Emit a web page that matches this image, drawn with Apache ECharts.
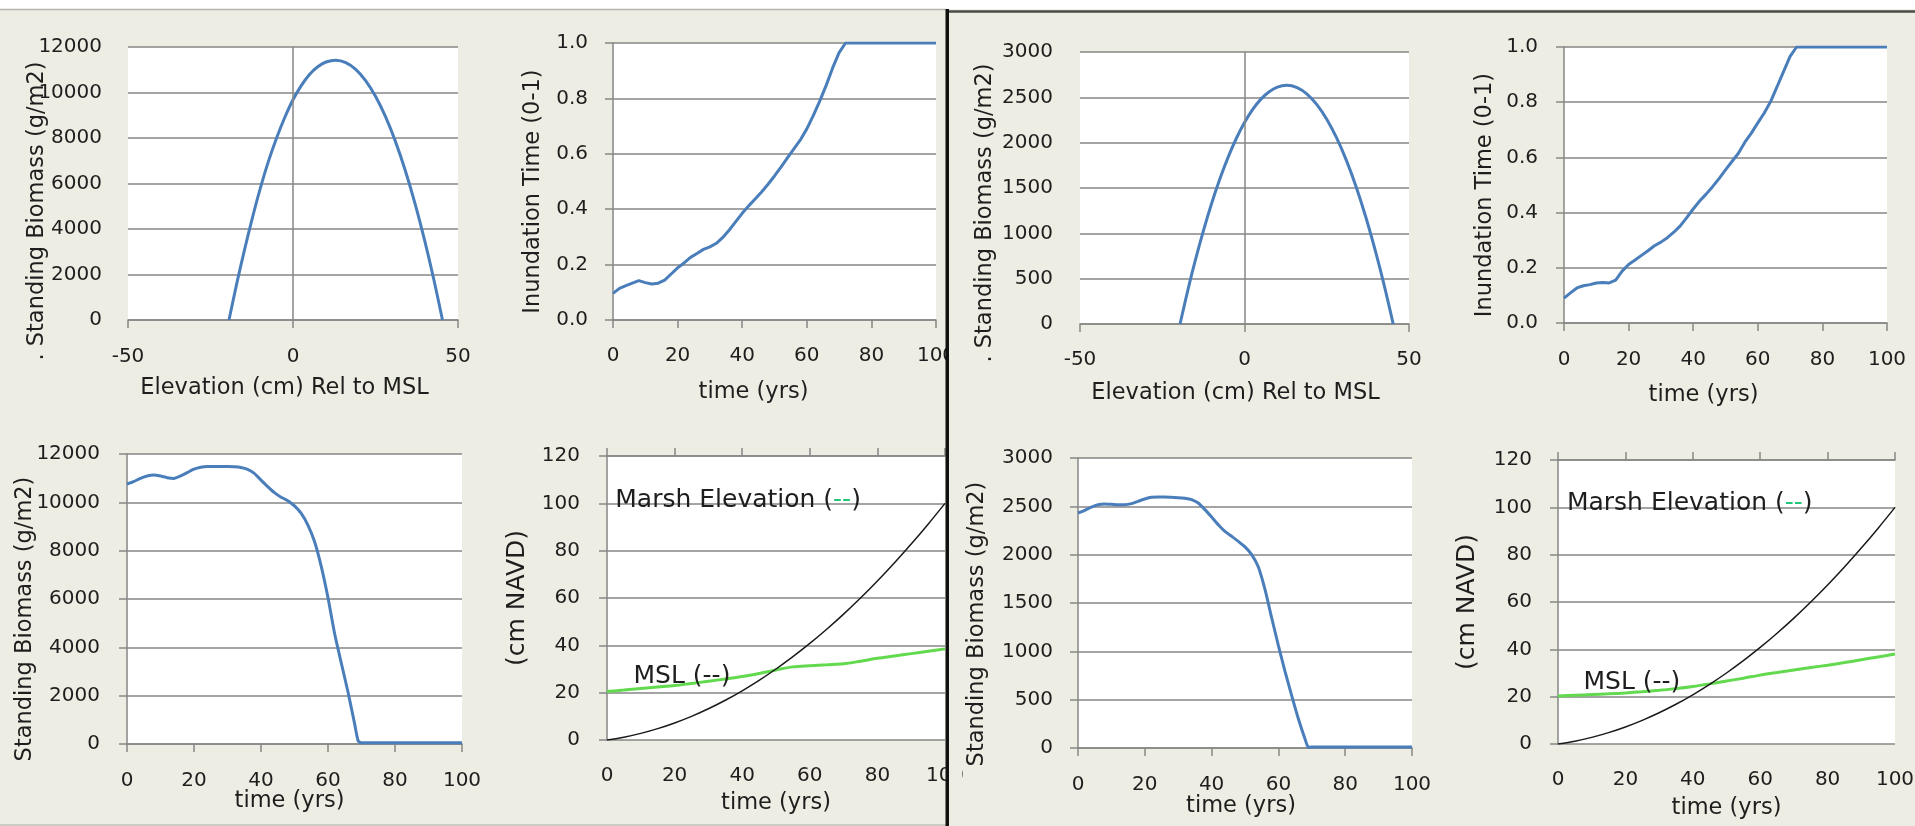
<!DOCTYPE html>
<html>
<head>
<meta charset="utf-8">
<title>Marsh biomass and elevation</title>
<script src="https://cdn.jsdelivr.net/npm/echarts@6/dist/echarts.min.js"></script>
<style>
html, body { margin: 0; padding: 0; background: #eeede3; }
#main { width: 1915px; height: 826px; }
</style>
</head>
<body>
<div id="main"></div>
<script>
// ---- left half (higher productivity run) ----
var elevL = [-19.4, -17, -15, -12.5, -10, -7.5, -5, -2.5, 0, 2.5, 5, 7.5, 10, 13, 16, 19, 22, 25, 28, 31, 34, 37, 40, 42.5, 45.3];
var biomassByElevL = [0, 1631, 2895, 4380, 5740, 6950, 7990, 8900, 9680, 10300, 10790, 11130, 11340, 11420, 11316, 11018, 10524, 9833, 8946, 7863, 6583, 5107, 3435, 1891, 0];

// ---- right half ----
var elevR = [-19.6, -17, -15, -12.5, -10, -7.5, -5, -2.5, 0, 2.5, 5, 7.5, 10, 12.8, 16, 19, 22, 25, 28, 31, 34, 37, 40, 42.5, 45.2];
var biomassByElevR = [0, 406, 695, 1027, 1329, 1599, 1838, 2046, 2222, 2367, 2480, 2562, 2613, 2633, 2607, 2536, 2420, 2259, 2053, 1802, 1506, 1164, 777, 421, 0];

// inundation time vs years
var yearsInund = [0, 2, 4, 6, 8, 10, 12, 14, 16, 18, 20, 22, 24, 26, 28, 30, 32, 34, 36, 38, 40, 42, 44, 46, 48, 50, 52, 54, 56, 58, 60, 62, 64, 66, 68, 70, 72, 100];
var inundL = [0.096, 0.114, 0.124, 0.133, 0.142, 0.135, 0.130, 0.133, 0.144, 0.166, 0.188, 0.206, 0.226, 0.240, 0.255, 0.264, 0.277, 0.298, 0.325, 0.355, 0.385, 0.412, 0.437, 0.462, 0.490, 0.520, 0.552, 0.585, 0.618, 0.650, 0.690, 0.738, 0.790, 0.847, 0.910, 0.965, 1.0, 1.0];
var inundR = [0.090, 0.109, 0.127, 0.135, 0.139, 0.145, 0.147, 0.145, 0.155, 0.188, 0.212, 0.228, 0.245, 0.262, 0.280, 0.293, 0.309, 0.329, 0.352, 0.382, 0.413, 0.442, 0.467, 0.494, 0.523, 0.555, 0.585, 0.615, 0.655, 0.688, 0.725, 0.761, 0.803, 0.857, 0.912, 0.966, 1.0, 1.0];

// standing biomass vs years
var yearsBio = [0, 2, 4, 6, 8, 10, 12, 14, 16, 18, 20, 22, 24, 26, 28, 30, 32, 34, 36, 38, 40, 42, 44, 46, 48, 50, 52, 54, 56, 58, 60, 62, 64, 66, 68, 69, 70, 100];
var bioL = [10760, 10860, 10990, 11090, 11130, 11090, 11020, 10990, 11090, 11230, 11370, 11450, 11480, 11480, 11480, 11480, 11470, 11440, 11360, 11200, 10920, 10650, 10400, 10210, 10070, 9850, 9540, 9060, 8370, 7340, 6050, 4550, 3330, 2130, 800, 130, 50, 50];
var bioR = [2431, 2459, 2493, 2517, 2524, 2521, 2517, 2517, 2528, 2552, 2576, 2593, 2597, 2597, 2593, 2590, 2583, 2569, 2534, 2466, 2390, 2310, 2241, 2190, 2138, 2080, 2000, 1872, 1638, 1345, 1060, 790, 540, 300, 90, 5, 10, 10];

// marsh elevation and MSL vs years
var yearsElev = [0, 5, 10, 15, 20, 25, 30, 35, 40, 45, 50, 55, 60, 65, 70, 75, 80, 85, 90, 95, 100];
var marshL = [0, 1.2, 2.8, 4.8, 7.2, 10, 13.2, 16.8, 20.8, 25.2, 30, 35.2, 40.8, 46.8, 53.2, 60, 67.2, 74.8, 82.8, 91.2, 100];
var mslL = [20.5, 21.1, 21.8, 22.4, 23.0, 23.9, 24.8, 25.8, 26.8, 28.1, 29.6, 30.9, 31.4, 31.8, 32.2, 33.3, 34.5, 35.5, 36.5, 37.5, 38.5];
var marshR = [0, 1.2, 2.8, 4.8, 7.2, 10, 13.2, 16.8, 20.8, 25.2, 30, 35.2, 40.8, 46.8, 53.2, 60, 67.2, 74.8, 82.8, 91.2, 100];
var mslR = [20.3, 20.6, 20.9, 21.2, 21.6, 22.1, 22.7, 23.4, 24.3, 25.4, 26.6, 27.8, 29.1, 30.2, 31.3, 32.3, 33.3, 34.4, 35.6, 36.8, 38.0];

// where the in-plot notes sit (time, cm)
var marshNoteL = [2.3, 101.4], mslNoteL = [7.7, 26.8];
var marshNoteR = [2.5, 101.7], mslNoteR = [7.4, 26.1];

var FONT = 'DejaVu Sans';
var TEXT = '#1e1e1e';
var GRAY = '#868686';
var BLUE = '#4a7ebb';
var GREEN = '#62d94e';
var BG = '#eeede3';

function zip(xs, ys) {
    return xs.map(function (x, i) { return [x, ys[i]]; });
}

function plain(v) { return String(v); }
function oneDecimal(v) { return v.toFixed(1); }

function makeX(o) {
    return {
        type: 'value', gridIndex: o.grid,
        min: o.min, max: o.max, interval: o.step,
        position: o.top ? 'top' : 'bottom',
        name: o.name || '', nameLocation: 'middle', nameGap: o.gap || 0, nameMoveOverlap: false,
        nameTextStyle: {fontFamily: FONT, fontSize: 22.5, color: TEXT, padding: [0, o.pad || 0, 0, 0]},
        axisLine: {show: o.line !== false, onZero: false, lineStyle: {color: GRAY, width: 1.5}},
        axisTick: {show: o.line !== false, length: 8, lineStyle: {color: GRAY, width: 1.5}},
        axisLabel: {show: !o.top, margin: o.margin || 0, fontFamily: FONT, fontSize: 20, color: TEXT, formatter: plain},
        splitLine: {show: false}
    };
}

function makeY(o) {
    return {
        type: 'value', gridIndex: o.grid,
        min: o.min, max: o.max, interval: o.step,
        name: o.name, nameLocation: 'middle', nameGap: o.gap, nameMoveOverlap: false,
        nameTextStyle: {fontFamily: FONT, fontSize: o.nameSize || 22.5, color: TEXT, padding: [0, o.pad || 0, 0, 0]},
        axisLine: {show: o.line !== false, onZero: false, lineStyle: {color: GRAY, width: 1.5}},
        axisTick: {show: o.line !== false, length: 8, lineStyle: {color: GRAY, width: 1.5}},
        axisLabel: {margin: o.margin, fontFamily: FONT, fontSize: 20, color: TEXT, formatter: o.fmt || plain},
        splitLine: {show: true, lineStyle: {color: GRAY, width: 1.5}}
    };
}

function blueLine(xi, yi, data, smooth) {
    return {
        type: 'line', xAxisIndex: xi, yAxisIndex: yi, data: data,
        symbol: 'none', smooth: smooth, z: 3,
        lineStyle: {color: BLUE, width: 3}
    };
}

function zeroLine() {
    return {
        silent: true, symbol: ['none', 'none'], label: {show: false},
        lineStyle: {color: GRAY, width: 1.5, type: 'solid'},
        data: [{xAxis: 0}]
    };
}

function note(at, text) {
    return {
        silent: true, symbol: 'circle', symbolSize: 1,
        itemStyle: {color: 'rgba(0,0,0,0)'},
        label: {
            show: true, position: 'right', distance: 0, formatter: text,
            fontFamily: FONT, fontSize: 25, color: TEXT,
            rich: {
                a: {fontFamily: FONT, fontSize: 25, color: TEXT},
                g: {fontFamily: FONT, fontSize: 25, color: '#22c77a'}
            }
        },
        data: [{coord: at}]
    };
}

var myChart = echarts.init(document.getElementById('main'));

var gridBox = {show: true, backgroundColor: '#fff', borderWidth: 0, outerBoundsMode: 'none'};
var option = {
    animation: false,
    backgroundColor: BG,
    grid: [
        Object.assign({left: 128, top: 47, width: 330, height: 273}, gridBox),
        Object.assign({left: 613, top: 43, width: 323, height: 277}, gridBox),
        Object.assign({left: 127, top: 454, width: 335, height: 290}, gridBox),
        Object.assign({left: 607, top: 456, width: 338, height: 284}, gridBox),
        Object.assign({left: 1080, top: 52, width: 329, height: 272}, gridBox),
        Object.assign({left: 1564, top: 47, width: 323, height: 276}, gridBox),
        Object.assign({left: 1078, top: 458, width: 334, height: 290}, gridBox),
        Object.assign({left: 1558, top: 460, width: 337, height: 284}, gridBox)
    ],
    xAxis: [
        makeX({grid: 0, min: -50, max: 50, step: 50, name: 'Elevation (cm) Rel to MSL', margin: 27, gap: 56.5, pad: 17}),
        makeX({grid: 1, min: 0, max: 100, step: 20, name: 'time (yrs)', margin: 26, gap: 60.5, pad: 42}),
        makeX({grid: 2, min: 0, max: 100, step: 20, name: 'time (yrs)', margin: 27, gap: 45.5, pad: 10}),
        makeX({grid: 3, min: 0, max: 100, step: 20, name: 'time (yrs)', margin: 26, gap: 51.5, line: false}),
        makeX({grid: 3, min: 0, max: 100, step: 20, top: true}),
        makeX({grid: 4, min: -50, max: 50, step: 50, name: 'Elevation (cm) Rel to MSL', margin: 26, gap: 57.5, pad: 18}),
        makeX({grid: 5, min: 0, max: 100, step: 20, name: 'time (yrs)', margin: 27, gap: 60.5, pad: 44}),
        makeX({grid: 6, min: 0, max: 100, step: 20, name: 'time (yrs)', margin: 27, gap: 46.5, pad: 8}),
        makeX({grid: 7, min: 0, max: 100, step: 20, name: 'time (yrs)', margin: 26, gap: 52.5, line: false}),
        makeX({grid: 7, min: 0, max: 100, step: 20, top: true})
    ],
    yAxis: [
        makeY({grid: 0, min: 0, max: 12000, step: 2000, name: '. Standing Biomass (g/m2)', margin: 26, gap: 79.5, pad: 55, line: false}),
        makeY({grid: 1, min: 0, max: 1, step: 0.2, name: 'Inundation Time (0-1)', margin: 25, gap: 68.5, pad: 20, fmt: oneDecimal}),
        makeY({grid: 2, min: 0, max: 12000, step: 2000, name: 'Standing Biomass (g/m2)', margin: 27, gap: 90.5, pad: 40}),
        makeY({grid: 3, min: 0, max: 120, step: 20, name: '(cm NAVD)', margin: 27, gap: 77.5, nameSize: 25}),
        makeY({grid: 4, min: 0, max: 3000, step: 500, name: '. Standing Biomass (g/m2)', margin: 27, gap: 83.5, pad: 50, line: false}),
        makeY({grid: 5, min: 0, max: 1, step: 0.2, name: 'Inundation Time (0-1)', margin: 26, gap: 67.5, pad: 20, fmt: oneDecimal}),
        makeY({grid: 6, min: 0, max: 3000, step: 500, name: 'Standing Biomass (g/m2)', margin: 25, gap: 89.5, pad: 42}),
        makeY({grid: 7, min: 0, max: 120, step: 20, name: '(cm NAVD)', margin: 26, gap: 78.5, nameSize: 25})
    ],
    series: [
        Object.assign(blueLine(0, 0, zip(elevL, biomassByElevL), 0.4), {markLine: zeroLine()}),
        blueLine(1, 1, zip(yearsInund, inundL), false),
        blueLine(2, 2, zip(yearsBio, bioL), 0.2),
        {
            type: 'line', xAxisIndex: 3, yAxisIndex: 3, data: zip(yearsElev, mslL),
            symbol: 'none', smooth: 0.3, lineStyle: {color: GREEN, width: 3},
            markPoint: note(mslNoteL, 'MSL (--)')
        },
        {
            type: 'line', xAxisIndex: 3, yAxisIndex: 3, data: zip(yearsElev, marshL),
            symbol: 'none', smooth: 0.3, lineStyle: {color: '#1a1a1a', width: 1.5},
            markPoint: note(marshNoteL, '{a|Marsh Elevation (}{g|--}{a|)}')
        },
        Object.assign(blueLine(5, 4, zip(elevR, biomassByElevR), 0.4), {markLine: zeroLine()}),
        blueLine(6, 5, zip(yearsInund, inundR), false),
        blueLine(7, 6, zip(yearsBio, bioR), 0.2),
        {
            type: 'line', xAxisIndex: 8, yAxisIndex: 7, data: zip(yearsElev, mslR),
            symbol: 'none', smooth: 0.3, lineStyle: {color: GREEN, width: 3},
            markPoint: note(mslNoteR, 'MSL (--)')
        },
        {
            type: 'line', xAxisIndex: 8, yAxisIndex: 7, data: zip(yearsElev, marshR),
            symbol: 'none', smooth: 0.3, lineStyle: {color: '#1a1a1a', width: 1.5},
            markPoint: note(marshNoteR, '{a|Marsh Elevation (}{g|--}{a|)}')
        }
    ],
    graphic: [
        {type: 'rect', z: 100, shape: {x: 0, y: 0, width: 1915, height: 9}, style: {fill: '#fff'}},
        {type: 'line', z: 100, shape: {x1: 0, y1: 9.5, x2: 946, y2: 9.5}, style: {stroke: '#b4b4ac', lineWidth: 1.5}},
        {type: 'line', z: 100, shape: {x1: 946, y1: 11.5, x2: 1915, y2: 11.5}, style: {stroke: '#4a4a4a', lineWidth: 2.5}},
        {type: 'rect', z: 100, shape: {x: 949, y: 13, width: 13, height: 813}, style: {fill: BG}},
        {type: 'rect', z: 101, shape: {x: 945.5, y: 9, width: 3.5, height: 817}, style: {fill: '#111'}},
        {type: 'line', z: 100, shape: {x1: 0, y1: 825, x2: 946, y2: 825}, style: {stroke: '#a9a9a2', lineWidth: 1}}
    ]
};
myChart.setOption(option);
</script>
</body>
</html>
